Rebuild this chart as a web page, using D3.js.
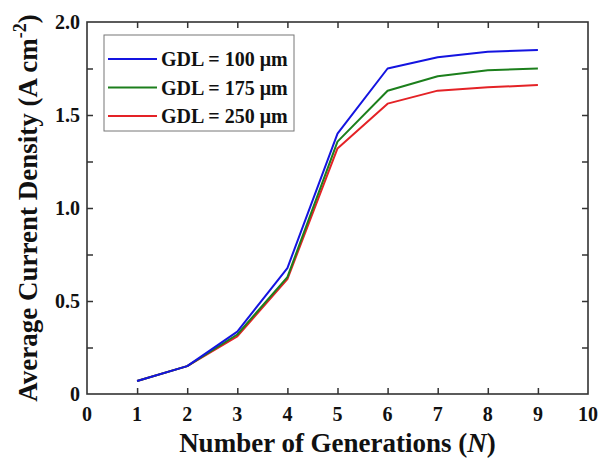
<!DOCTYPE html>
<html>
<head>
<meta charset="utf-8">
<script src="https://cdn.jsdelivr.net/npm/d3@7"></script>
<style>
  body { margin: 0; background: #fff; }
  text { font-family: "Liberation Serif", "Times New Roman", serif; font-weight: bold; fill: #111; }
</style>
</head>
<body>
<div id="wrapper"></div>
<script>
// data
const generations = [1, 2, 3, 4, 5, 6, 7, 8, 9];
const gdl100 = [0.07, 0.15, 0.335, 0.677, 1.40, 1.75, 1.81, 1.84, 1.85];
const gdl175 = [0.07, 0.15, 0.32, 0.628, 1.357, 1.63, 1.708, 1.74, 1.75];
const gdl250 = [0.07, 0.15, 0.31, 0.618, 1.32, 1.561, 1.631, 1.649, 1.661];
const seriesNames = ["GDL = 100 \u03bcm", "GDL = 175 \u03bcm", "GDL = 250 \u03bcm"];
const seriesColors = ["#1414e0", "#1c7f1c", "#e42226"];
const xTicks = [0, 1, 2, 3, 4, 5, 6, 7, 8, 9, 10];
const yTicks = [0, 0.5, 1.0, 1.5, 2.0];
const yMinorTicks = [0.25, 0.75, 1.25, 1.75];

const drawChart = () => {
  const dimensions = {
    width: 598,
    height: 459,
    margin: { top: 22, right: 10, bottom: 65, left: 87 }
  };
  dimensions.boundedWidth = dimensions.width - dimensions.margin.left - dimensions.margin.right;
  dimensions.boundedHeight = dimensions.height - dimensions.margin.top - dimensions.margin.bottom;

  const svg = d3.select("#wrapper")
    .append("svg")
    .attr("width", dimensions.width)
    .attr("height", dimensions.height);

  const bounds = svg.append("g")
    .attr("transform", `translate(${dimensions.margin.left},${dimensions.margin.top})`);

  // scales
  const xScale = d3.scaleLinear().domain([0, 10]).range([0, dimensions.boundedWidth]);
  const yScale = d3.scaleLinear().domain([0, 2]).range([dimensions.boundedHeight, 0]);

  // lines
  const allSeries = [gdl100, gdl175, gdl250];
  const lineGen = d3.line()
    .x((d, i) => xScale(generations[i]))
    .y(d => yScale(d));

  // draw red first so blue ends on top
  [2, 1, 0].forEach(k => {
    bounds.append("path")
      .datum(allSeries[k])
      .attr("d", lineGen)
      .attr("fill", "none")
      .attr("stroke", seriesColors[k])
      .attr("stroke-width", 2)
      .attr("stroke-linejoin", "round");
  });

  // axes, ticks inward
  const tickLen = 6;
  const xMajor = xTicks.slice(1, -1);

  const xAxisBottom = bounds.append("g")
    .attr("transform", `translate(0,${dimensions.boundedHeight})`)
    .call(d3.axisBottom(xScale).tickValues(xMajor).tickSize(-tickLen).tickFormat(""));
  const xAxisTop = bounds.append("g")
    .call(d3.axisTop(xScale).tickValues(xMajor).tickSize(-tickLen).tickFormat(""));
  const yAxisLeft = bounds.append("g")
    .call(d3.axisLeft(yScale).tickValues(yTicks.slice(1, -1).concat(yMinorTicks)).tickSize(-tickLen).tickFormat(""));
  const yAxisRight = bounds.append("g")
    .attr("transform", `translate(${dimensions.boundedWidth},0)`)
    .call(d3.axisRight(yScale).tickValues(yTicks.slice(1, -1).concat(yMinorTicks)).tickSize(-tickLen).tickFormat(""));

  [xAxisBottom, xAxisTop, yAxisLeft, yAxisRight].forEach(ax => {
    ax.select(".domain").remove();
    ax.selectAll(".tick line").attr("stroke", "#333").attr("stroke-width", 1.5);
  });

  // frame
  bounds.append("rect")
    .attr("width", dimensions.boundedWidth)
    .attr("height", dimensions.boundedHeight)
    .attr("fill", "none")
    .attr("stroke", "#333")
    .attr("stroke-width", 1.6);

  // tick labels
  bounds.append("g").selectAll("text")
    .data(xTicks)
    .join("text")
    .attr("x", d => xScale(d))
    .attr("y", dimensions.boundedHeight + 27)
    .attr("text-anchor", "middle")
    .style("font-size", "20px")
    .text(d => d);

  bounds.append("g").selectAll("text")
    .data(yTicks)
    .join("text")
    .attr("x", -7)
    .attr("y", d => yScale(d))
    .attr("dy", "0.35em")
    .attr("text-anchor", "end")
    .style("font-size", "20px")
    .text(d => d === 0 ? "0" : d3.format(".1f")(d));

  // axis titles
  const xTitle = svg.append("text")
    .attr("x", dimensions.margin.left + dimensions.boundedWidth / 2)
    .attr("y", 452)
    .attr("text-anchor", "middle")
    .style("font-size", "27px");
  xTitle.append("tspan").text("Number of Generations (");
  xTitle.append("tspan").style("font-style", "italic").text("N");
  xTitle.append("tspan").text(")");

  const yTitle = svg.append("text")
    .attr("transform", `translate(37,${dimensions.margin.top + dimensions.boundedHeight / 2}) rotate(-90)`)
    .attr("text-anchor", "middle")
    .style("font-size", "27px");
  yTitle.append("tspan").text("Average Current Density (A cm");
  yTitle.append("tspan").attr("dy", -11).style("font-size", "18px").text("-2");
  yTitle.append("tspan").attr("dy", 11).text(")");

  // legend
  const legend = svg.append("g").attr("transform", "translate(104,35)");
  legend.append("rect")
    .attr("width", 190)
    .attr("height", 96)
    .attr("fill", "#fff")
    .attr("stroke", "#777")
    .attr("stroke-width", 1);
  seriesNames.forEach((name, i) => {
    const row = legend.append("g").attr("transform", `translate(0,${24 + i * 28.5})`);
    row.append("line")
      .attr("x1", 4).attr("x2", 53)
      .attr("stroke", seriesColors[i])
      .attr("stroke-width", 2);
    row.append("text")
      .attr("x", 57)
      .attr("dy", "0.35em")
      .style("font-size", "20px")
      .text(name);
  });
};

drawChart();
</script>
</body>
</html>
